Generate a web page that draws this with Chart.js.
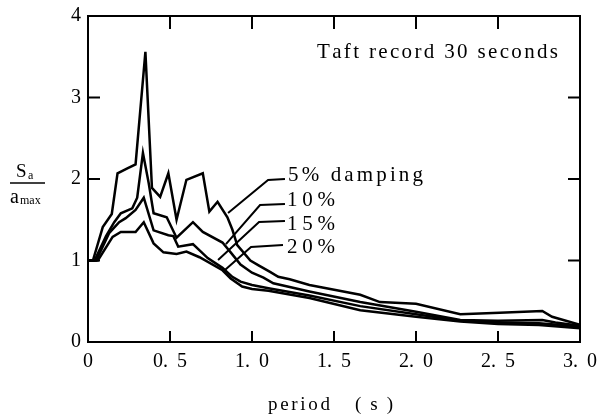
<!DOCTYPE html>
<html><head><meta charset="utf-8">
<script src="https://cdn.jsdelivr.net/npm/chart.js@4/dist/chart.umd.min.js"></script>
<style>html,body{margin:0;padding:0;background:#fff}#wrap{width:601px;height:414px}</style>
</head><body><div id="wrap"><canvas id="c" width="601" height="414"></canvas></div>
<script>
// ---- data (period in s, Sa/amax) ----
const period5  = [0, 0.03, 0.09, 0.145, 0.18, 0.24, 0.29, 0.35, 0.39, 0.44, 0.49, 0.54, 0.60, 0.70, 0.74, 0.79, 0.85, 0.88, 0.91, 0.99, 1.04, 1.11, 1.16, 1.23, 1.35, 1.66, 1.78, 2.0, 2.27, 2.51, 2.77, 2.83, 3.0];
const ratio5   = [1.0, 1.0, 1.41, 1.57, 2.07, 2.13, 2.18, 3.56, 1.89, 1.78, 2.07, 1.50, 1.99, 2.07, 1.60, 1.72, 1.53, 1.38, 1.19, 1.0, 0.94, 0.86, 0.80, 0.77, 0.70, 0.58, 0.49, 0.47, 0.34, 0.36, 0.38, 0.31, 0.21];
const period10 = [0, 0.04, 0.11, 0.16, 0.20, 0.27, 0.30, 0.335, 0.37, 0.40, 0.48, 0.54, 0.64, 0.70, 0.82, 0.87, 0.93, 1.0, 1.07, 1.13, 1.35, 1.66, 2.0, 2.27, 2.5, 2.77, 2.85, 3.0];
const ratio10  = [1.0, 1.0, 1.30, 1.47, 1.58, 1.64, 1.77, 2.32, 1.95, 1.58, 1.53, 1.28, 1.47, 1.35, 1.22, 1.10, 0.95, 0.85, 0.79, 0.72, 0.62, 0.49, 0.37, 0.27, 0.26, 0.27, 0.24, 0.20];
const period15 = [0, 0.05, 0.13, 0.19, 0.23, 0.29, 0.34, 0.40, 0.49, 0.52, 0.55, 0.64, 0.73, 0.82, 0.88, 0.93, 1.0, 1.1, 1.35, 1.66, 2.0, 2.27, 2.5, 2.75, 3.0];
const ratio15  = [1.0, 1.0, 1.34, 1.47, 1.52, 1.62, 1.77, 1.37, 1.31, 1.30, 1.17, 1.20, 1.03, 0.91, 0.80, 0.74, 0.70, 0.66, 0.57, 0.44, 0.34, 0.26, 0.24, 0.23, 0.19];
const period20 = [0, 0.06, 0.15, 0.20, 0.29, 0.34, 0.40, 0.46, 0.54, 0.60, 0.68, 0.82, 0.87, 0.94, 1.0, 1.1, 1.35, 1.66, 2.0, 2.27, 2.5, 2.75, 3.0];
const ratio20  = [1.0, 1.0, 1.29, 1.35, 1.35, 1.47, 1.21, 1.10, 1.08, 1.11, 1.04, 0.88, 0.78, 0.68, 0.65, 0.63, 0.54, 0.39, 0.31, 0.25, 0.22, 0.21, 0.17];

// leader lines from curve to its label (period, ratio)
const leader5P  = [0.854, 1.098, 1.201]; const leader5R  = [1.583, 1.988, 2.0];
const leader10P = [0.841, 1.049, 1.201]; const leader10R = [1.202, 1.681, 1.693];
const leader15P = [0.793, 1.043, 1.201]; const leader15R = [1.006, 1.472, 1.485];
const leader20P = [0.835, 0.994, 1.189]; const leader20R = [0.883, 1.166, 1.190];

const seriesLabels = ['5% damping', '10%', '15%', '20%'];
const chartTitle = 'Taft record 30 seconds';
const xTitleWord = 'period';
const xTitleUnit = '(s)';

const SERIF = "'Liberation Serif', 'Times New Roman', serif";
const toPts = (p, r) => p.map((v, i) => ({x: v, y: r[i]}));

function drawSpaced(ctx, text, left, baseline, width) {
  const chars = [...text];
  const widths = chars.map(c => ctx.measureText(c).width);
  const natural = widths.reduce((a, b) => a + b, 0);
  const gap = chars.length > 1 ? (width - natural) / (chars.length - 1) : 0;
  let x = left;
  chars.forEach((c, i) => { ctx.fillText(c, x, baseline); x += widths[i] + gap; });
}

const decor = {
  id: 'decor',
  afterDraw(chart) {
    const {ctx, chartArea: a} = chart;
    const xs = chart.scales.x, ys = chart.scales.y;
    ctx.save();
    ctx.strokeStyle = '#000';
    ctx.fillStyle = '#000';
    ctx.lineWidth = 2;
    ctx.lineCap = 'butt';
    ctx.strokeRect(a.left, a.top, a.right - a.left, a.bottom - a.top);
    // inward tick marks on all four sides
    ctx.beginPath();
    xs.ticks.forEach(t => {
      if (t.value <= xs.min || t.value >= xs.max) return;
      const px = xs.getPixelForValue(t.value);
      ctx.moveTo(px, a.bottom); ctx.lineTo(px, a.bottom - 11);
      ctx.moveTo(px, a.top); ctx.lineTo(px, a.top + 13);
    });
    ys.ticks.forEach(t => {
      if (t.value <= ys.min || t.value >= ys.max) return;
      const py = ys.getPixelForValue(t.value);
      ctx.moveTo(a.left, py); ctx.lineTo(a.left + 12, py);
      ctx.moveTo(a.right, py); ctx.lineTo(a.right - 12, py);
    });
    ctx.stroke();
    // leader lines
    ctx.lineWidth = 2;
    [[leader5P, leader5R], [leader10P, leader10R], [leader15P, leader15R], [leader20P, leader20R]].forEach(([P, R]) => {
      ctx.beginPath();
      P.forEach((p, i) => {
        const px = xs.getPixelForValue(p), py = ys.getPixelForValue(R[i]);
        if (i === 0) ctx.moveTo(px, py); else ctx.lineTo(px, py);
      });
      ctx.stroke();
    });
    // texts
    ctx.textBaseline = 'alphabetic';
    ctx.textAlign = 'left';
    ctx.font = '21px ' + SERIF;
    drawSpaced(ctx, chartTitle, 317, 58, 241);
    ctx.font = '21px ' + SERIF;
    drawSpaced(ctx, seriesLabels[0], 288, 181, 135);
    drawSpaced(ctx, seriesLabels[1], 287, 206, 48);
    drawSpaced(ctx, seriesLabels[2], 287, 230, 48);
    drawSpaced(ctx, seriesLabels[3], 287, 253, 48);
    // x axis title
    ctx.font = '19px ' + SERIF;
    drawSpaced(ctx, xTitleWord, 268, 410, 62);
    drawSpaced(ctx, xTitleUnit, 355, 410, 38);
    // y axis title: Sa / amax
    ctx.font = '19px ' + SERIF;
    ctx.fillText('S', 16, 177);
    ctx.font = '12px ' + SERIF;
    ctx.fillText('a', 28, 179);
    ctx.lineWidth = 1.5;
    ctx.beginPath(); ctx.moveTo(10, 183); ctx.lineTo(45, 183); ctx.stroke();
    ctx.font = '20px ' + SERIF;
    ctx.fillText('a', 10, 203);
    ctx.font = '12px ' + SERIF;
    ctx.fillText('max', 20, 204);
    ctx.restore();
  }
};

const lineStyle = {borderColor: '#000', borderWidth: 2.5, pointRadius: 0, tension: 0, fill: false};

new Chart(document.getElementById('c'), {
  type: 'line',
  data: {
    datasets: [
      Object.assign({label: '5%', data: toPts(period5, ratio5)}, lineStyle),
      Object.assign({label: '10%', data: toPts(period10, ratio10)}, lineStyle),
      Object.assign({label: '15%', data: toPts(period15, ratio15)}, lineStyle),
      Object.assign({label: '20%', data: toPts(period20, ratio20)}, lineStyle)
    ]
  },
  options: {
    responsive: false,
    animation: false,
    devicePixelRatio: 1,
    layout: {padding: {top: 16, right: 21, left: 0, bottom: 0}},
    plugins: {legend: {display: false}, tooltip: {enabled: false}},
    scales: {
      x: {
        type: 'linear', min: 0, max: 3,
        grid: {display: false, drawTicks: false},
        border: {display: true, color: '#000', width: 2},
        ticks: {
          stepSize: 0.5, color: '#000', padding: 8,
          font: {family: SERIF, size: 20},
          maxRotation: 0,
          callback: v => v === 0 ? '0' : v.toFixed(1).replace('.', '. \u2009')
        },
        afterFit: s => { s.height = 72; s.paddingLeft = 0; s.paddingRight = 0; }
      },
      y: {
        type: 'linear', min: 0, max: 4,
        grid: {display: false, drawTicks: false},
        border: {display: true, color: '#000', width: 2},
        ticks: {stepSize: 1, color: '#000', padding: 7, font: {family: SERIF, size: 20}},
        afterFit: s => { s.width = 88; s.paddingTop = 0; s.paddingBottom = 0; }
      }
    }
  },
  plugins: [decor]
});
</script>
</body></html>
